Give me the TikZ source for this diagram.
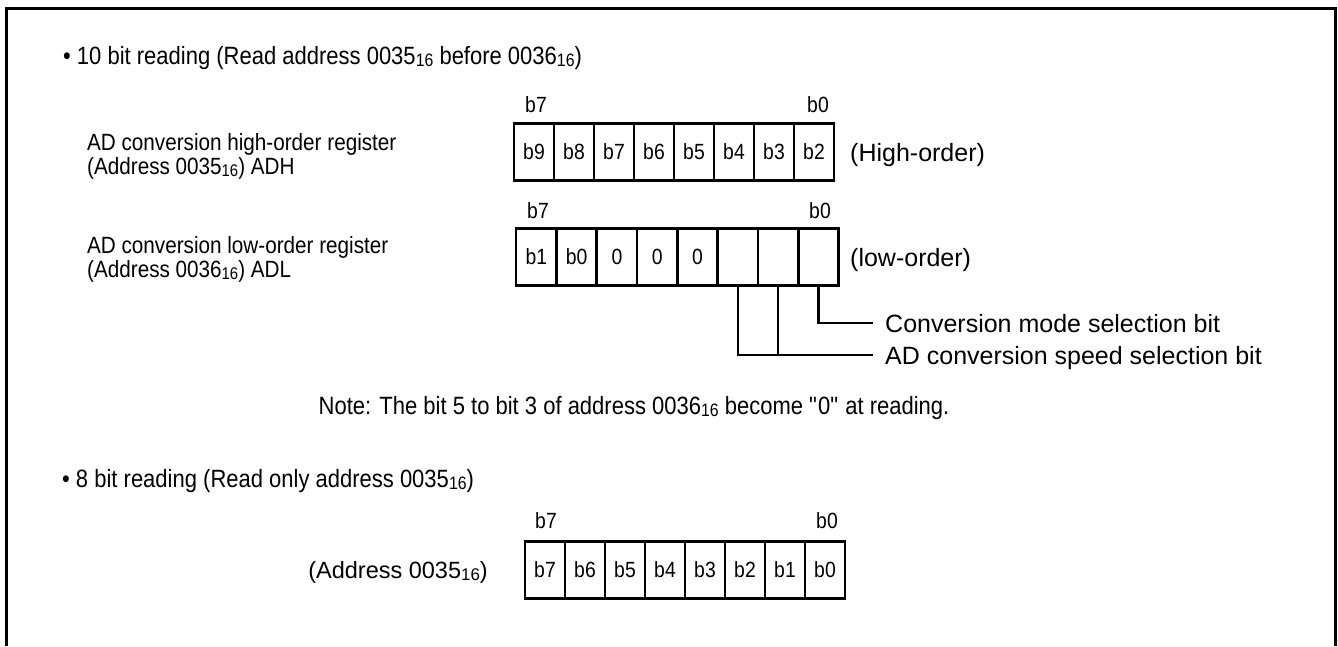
\documentclass[tikz,border=0pt]{standalone}
\usepackage{fontspec}
\setmainfont{Liberation Sans}
\newfontfamily\cond[FakeStretch=0.88]{Liberation Sans}
\usepackage{graphicx}
\newcommand\hexsub{\raisebox{-0.1em}{\scalebox{0.72}{16}}}
\newcommand\fs[1]{\fontsize{#1}{#1}\selectfont}
\begin{document}
\begin{tikzpicture}[x=1pt,y=-1pt,
  cell/.style={draw,line width=2.3pt,minimum width=40pt,minimum height=57pt,inner sep=0pt,font=\cond\fs{22}},
  lbl/.style={anchor=base west,inner sep=0pt,font=\cond\fs{25}},
  leftlbl/.style={anchor=base west,inner sep=0pt,font=\cond\fs{23.5}},
  rightlbl/.style={anchor=base west,inner sep=0pt,font=\fs{25}},
  bitlbl/.style={anchor=base,inner sep=0pt,font=\cond\fs{22}},
  wire/.style={line width=2.3pt}]
\useasboundingbox (0,0) rectangle (1338,646);
% frame
\draw[line width=3pt] (6.5,646) -- (6.5,8.5) -- (1335,8.5) -- (1335,646);

% heading 1
\node[lbl] (h1) at (63,64) {\textbullet\ 10 bit reading (Read address 0035\hexsub\ before 0036\hexsub)};

% register 1
\node[leftlbl] (l1a) at (87,150) {AD conversion high-order register};
\node[leftlbl] (l1b) at (87,174) {(Address 0035\hexsub) ADH};
\foreach \t [count=\i] in {b9,b8,b7,b6,b5,b4,b3,b2}
  \node[cell] (a\i) at ({494+40*\i},152) {\t};
\node[bitlbl] (a7l) at (536,112) {b7};
\node[bitlbl] (a0l) at (818,112) {b0};
\node[rightlbl] (hi) at (850,161) {(High-order)};

% register 2
\node[leftlbl] (l2a) at (87,253) {AD conversion low-order register};
\node[leftlbl] (l2b) at (87,277) {(Address 0036\hexsub) ADL};
\foreach \t [count=\i] in {b1,b0,0,0,0,{},{},{}}
  \node[cell] (b\i) at ({496+40.3*\i},257) {\t};
\node[bitlbl] (b7l) at (538,218) {b7};
\node[bitlbl] (b0l) at (820,218) {b0};
\node[rightlbl] (lo) at (850,266) {(low-order)};

% bit selection lines
\coordinate (m1) at (b8.south |- 0,323);
\coordinate (m2) at (873,323);
\coordinate (s1) at (b6.south |- 0,355);
\coordinate (s2) at (873,355);
\draw[wire] (b8.south) -- (m1) -- (m2);
\draw[wire] (b6.south) -- (s1) -- (s2);
\draw[wire] (b7.south) -- (b7.south |- s1);
\node[rightlbl] (mode) at (885,332) {Conversion mode selection bit};
\node[rightlbl] (speed) at (885,364) {AD conversion speed selection bit};

% note
\node[anchor=base,inner sep=0pt,font=\cond\fs{25}] (note) at (634,414)
  {Note: The bit 5 to bit 3 of address 0036\hexsub\ become \textquotedbl 0\textquotedbl\ at reading.};

% heading 2
\node[lbl] (h2) at (62,487) {\textbullet\ 8 bit reading (Read only address 0035\hexsub)};

% register 3
\foreach \t [count=\i] in {b7,b6,b5,b4,b3,b2,b1,b0}
  \node[cell] (c\i) at ({505+40*\i},570) {\t};
\node[bitlbl] (c7l) at (546,528) {b7};
\node[bitlbl] (c0l) at (827,528) {b0};
\node[anchor=base east,inner sep=0pt,font=\fs{23.5}] (adr) at (488,578) {(Address 0035\hexsub)};
\end{tikzpicture}
\end{document}
